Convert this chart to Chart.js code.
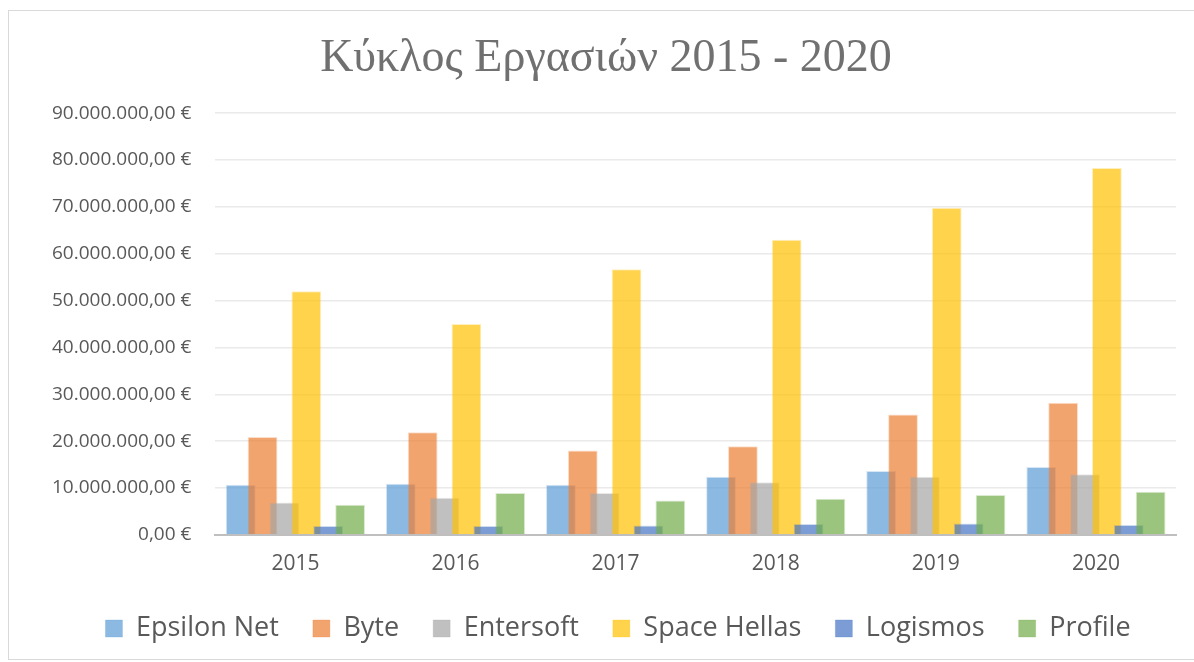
<!DOCTYPE html>
<html>
<head>
<meta charset="utf-8">
<script src="https://cdn.jsdelivr.net/npm/chart.js@4"></script>
<style>
  html, body { margin: 0; padding: 0; background: #fff; overflow: hidden; }
  #wrap { position: relative; width: 1194px; height: 662px; }
</style>
</head>
<body>
<div id="wrap"><canvas id="revenueChart" width="1194" height="662"></canvas></div>
<script>
const years = ["2015", "2016", "2017", "2018", "2019", "2020"];
const epsilonNet = [10700000, 10900000, 10700000, 12400000, 13600000, 14500000];
const byte = [20900000, 21900000, 18000000, 18900000, 25700000, 28200000];
const entersoft = [6900000, 7900000, 8900000, 11200000, 12400000, 12900000];
const spaceHellas = [52000000, 45000000, 56700000, 63000000, 69800000, 78300000];
const logismos = [1900000, 1900000, 2000000, 2300000, 2400000, 2100000];
const profile = [6400000, 8900000, 7300000, 7700000, 8500000, 9200000];
const yTicks = [0, 10000000, 20000000, 30000000, 40000000, 50000000, 60000000, 70000000, 80000000, 90000000];

function euro(v) {
  const s = Math.round(v).toString().replace(/\B(?=(\d{3})+(?!\d))/g, ".");
  return s + ",00 €";
}

function series(label, data, rgb) {
  return {
    label: label,
    data: data,
    backgroundColor: `rgba(${rgb}, 0.7)`,
    borderColor: `rgba(${rgb}, 0.25)`,
    borderWidth: 1,
    categoryPercentage: 0.82,
    barPercentage: 1.36,
  };
}

// draw datasets left-to-right so later series sit on top, as in Excel
const drawOrderPlugin = {
  id: "drawOrder",
  beforeDatasetsDraw(chart) {
    const ctx = chart.ctx;
    ctx.save();
    for (let i = 0; i < chart.data.datasets.length; i++) {
      const meta = chart.getDatasetMeta(i);
      if (meta.visible) meta.controller.draw();
    }
    ctx.restore();
    return false;
  },
};

// nudge legend / title a bit after layout (legend sits closer to the axis in the original)
const nudgePlugin = {
  id: "nudge",
  afterLayout(chart) {
    const lg = chart.legend;
    lg.top -= 13; lg.bottom -= 13;
    lg.left += 16; lg.right += 16;
    if (chart.titleBlock) {
      chart.titleBlock.left += 4;
      chart.titleBlock.right += 4;
    }
  },
};

const framePlugin = {
  id: "frame",
  afterDraw(chart) {
    const ctx = chart.ctx;
    ctx.save();
    ctx.strokeStyle = "#D9D9D9";
    ctx.lineWidth = 1;
    ctx.strokeRect(8.5, 10.5, 1200, 649);
    ctx.restore();
  },
};

const ctx = document.getElementById("revenueChart").getContext("2d");
new Chart(ctx, {
  type: "bar",
  data: {
    labels: years,
    datasets: [
      series("Epsilon Net", epsilonNet, "91, 155, 213"),
      series("Byte", byte, "237, 125, 49"),
      series("Entersoft", entersoft, "165, 165, 165"),
      series("Space Hellas", spaceHellas, "255, 192, 0"),
      series("Logismos", logismos, "68, 114, 196"),
      series("Profile", profile, "112, 173, 71"),
    ],
  },
  options: {
    responsive: false,
    animation: false,
    layout: { padding: { left: 28, right: 18, top: 10, bottom: -3 } },
    plugins: {
      title: {
        display: true,
        text: "Κύκλος Εργασιών 2015 - 2020",
        color: "#707070",
        font: { family: "'Liberation Serif', 'DejaVu Serif', serif", size: 46, weight: "normal" },
        padding: { top: 21, bottom: 27 },
      },
      legend: {
        position: "bottom",
        labels: {
          color: "#595959",
          font: { family: "'Open Sans', sans-serif", size: 27 },
          boxWidth: 17,
          boxHeight: 17,
          padding: 34,
        },
      },
      tooltip: { enabled: false },
    },
    scales: {
      x: {
        grid: { display: false, drawTicks: false },
        border: { color: "#BFBFBF", width: 2 },
        ticks: {
          color: "#595959",
          font: { family: "'Open Sans', sans-serif", size: 21 },
          padding: 17,
        },
      },
      y: {
        min: 0,
        max: 90000000,
        afterBuildTicks(axis) {
          axis.ticks = yTicks.map((v) => ({ value: v }));
        },
        grid: { color: "#EAEAEA", lineWidth: 1.5, drawTicks: false },
        border: { display: false },
        ticks: {
          color: "#595959",
          font: { family: "'Open Sans', sans-serif", size: 19 },
          padding: 24,
          callback: (v) => euro(v),
        },
      },
    },
  },
  plugins: [drawOrderPlugin, nudgePlugin, framePlugin],
});
</script>
</body>
</html>
